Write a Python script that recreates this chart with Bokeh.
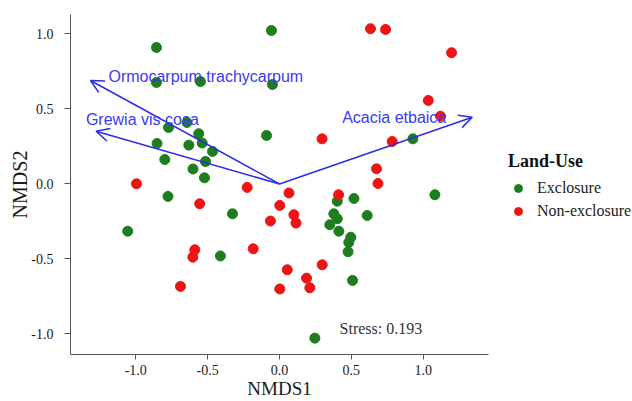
from bokeh.plotting import figure
from bokeh.models import (Arrow, OpenHead, Label, Legend, LegendItem, FixedTicker,
                          Range1d, ColumnDataSource)
from bokeh.embed import file_html
from bokeh.resources import INLINE

# ---------------- data ----------------
exclosure_x = [-0.856, -0.056, -0.856, -0.550, -0.049, -0.772, -0.644, -0.562, -0.538, -0.852,
               -0.631, -0.466, -0.798, -0.515, -0.602, -0.522, -0.090, -0.776, -0.327, -1.056,
               -0.411, 0.246, 0.928, 1.081, 0.518, 0.402, 0.610, 0.378, 0.402, 0.350,
               0.413, 0.496, 0.482, 0.477, 0.508]
exclosure_y = [0.910, 1.023, 0.677, 0.683, 0.663, 0.377, 0.410, 0.335, 0.273, 0.270,
               0.259, 0.217, 0.163, 0.150, 0.100, 0.041, 0.323, -0.083, -0.199, -0.315,
               -0.480, -1.028, 0.301, -0.072, -0.097, -0.115, -0.210, -0.199, -0.232, -0.272,
               -0.315, -0.355, -0.390, -0.452, -0.643]

non_exclosure_x = [0.633, 0.738, 1.197, 1.035, 1.120, 0.296, 0.784, 0.675, 0.685, 0.411,
                   -0.995, -0.225, 0.066, -0.555, 0.002, 0.100, 0.115, -0.063, -0.589, -0.603,
                   -0.183, 0.054, -0.689, 0.002, 0.188, 0.211, 0.297]
non_exclosure_y = [1.035, 1.030, 0.875, 0.557, 0.452, 0.301, 0.283, 0.101, 0.003, -0.072,
                   0.001, -0.023, -0.060, -0.132, -0.143, -0.205, -0.261, -0.247, -0.439, -0.488,
                   -0.432, -0.572, -0.683, -0.700, -0.628, -0.692, -0.539]

species = ["Ormocarpum trachycarpum", "Grewia vis cosa", "Acacia etbaica"]
vector_x = [-1.315, -1.276, 1.341]
vector_y = [0.690, 0.352, 0.445]
species_label_x = [-1.190, -1.347, 0.436]
species_label_y = [0.717, 0.432, 0.445]

group_names = ["Exclosure", "Non-exclosure"]
legend_title = "Land-Use"
stress_text = "Stress: 0.193"

tick_vals = [-1.0, -0.5, 0.0, 0.5, 1.0]
tick_labels = ["-1.0", "-0.5", "0.0", "0.5", "1.0"]

x_title = "NMDS1"
y_title = "NMDS2"

# ---------------- styles ----------------
GREEN = "#1e7d1e"
RED = "#ee1414"
BLUE = "#2a2ae8"
TEXT_BLUE = "#3a3af2"
SERIF = "Liberation Serif"
SANS = "Liberation Sans"

p = figure(frame_width=418, frame_height=340,
           x_range=Range1d(-1.454, 1.454), y_range=Range1d(-1.137, 1.130),
           output_backend="svg", toolbar_location=None,
           min_border_left=70, min_border_right=144, min_border_top=14, min_border_bottom=47)
p.outline_line_color = None
p.grid.visible = False
p.background_fill_color = "white"
p.border_fill_color = "white"

for ax in (p.xaxis, p.yaxis):
    ax.ticker = FixedTicker(ticks=tick_vals)
    ax.major_label_overrides = dict(zip(tick_vals, tick_labels))
    ax.axis_line_color = "#555555"
    ax.major_tick_line_color = "#555555"
    ax.minor_tick_line_color = None
    ax.major_tick_in = 0
    ax.major_label_text_font = SERIF
    ax.major_label_text_font_size = "14px"
    ax.major_label_text_color = "#1a1a1a"
    ax.axis_label_text_font = SERIF
    ax.axis_label_text_font_style = "normal"
    ax.axis_label_text_color = "#1a1a1a"

p.xaxis.major_tick_out = 5
p.xaxis.major_label_standoff = 5
p.xaxis.axis_label = x_title
p.xaxis.axis_label_text_font_size = "19px"
p.xaxis.axis_label_standoff = 0

p.yaxis.major_tick_out = 6
p.yaxis.major_label_standoff = 11
p.yaxis.axis_label = y_title
p.yaxis.axis_label_text_font_size = "20px"
p.yaxis.axis_label_standoff = -3

src_e = ColumnDataSource(dict(x=exclosure_x, y=exclosure_y))
src_n = ColumnDataSource(dict(x=non_exclosure_x, y=non_exclosure_y))
r_e = p.scatter("x", "y", source=src_e, size=10, fill_color=GREEN, line_color=GREEN)
r_n = p.scatter("x", "y", source=src_n, size=10, fill_color=RED, line_color=RED)

for name, vx, vy, lx, ly in zip(species, vector_x, vector_y, species_label_x, species_label_y):
    p.add_layout(Arrow(end=OpenHead(size=13, line_color=BLUE, line_width=1.5),
                       x_start=0, y_start=0, x_end=vx, y_end=vy,
                       line_color=BLUE, line_width=1.5))
    p.add_layout(Label(x=lx, y=ly, text=name, text_font=SANS, text_font_size="16px",
                       text_color=TEXT_BLUE, text_baseline="middle", text_align="left"))

p.add_layout(Label(x=0.418, y=-0.963, text=stress_text, text_font=SERIF,
                   text_font_size="16px", text_color="#333333",
                   text_baseline="middle", text_align="left"))

legend = Legend(items=[LegendItem(label=group_names[0], renderers=[r_e]),
                       LegendItem(label=group_names[1], renderers=[r_n])],
                location=(20, 133), title=legend_title,
                title_text_font=SERIF, title_text_font_style="bold",
                title_text_font_size="18px", title_text_color="#111111",
                label_text_font=SERIF, label_text_font_size="16px",
                label_text_color="#222222", label_standoff=9,
                glyph_width=20, glyph_height=20,
                background_fill_alpha=0, border_line_color=None,
                padding=4, margin=0, spacing=3, title_standoff=6)
p.add_layout(legend, "right")

open("out.html", "w").write(file_html(p, INLINE))
